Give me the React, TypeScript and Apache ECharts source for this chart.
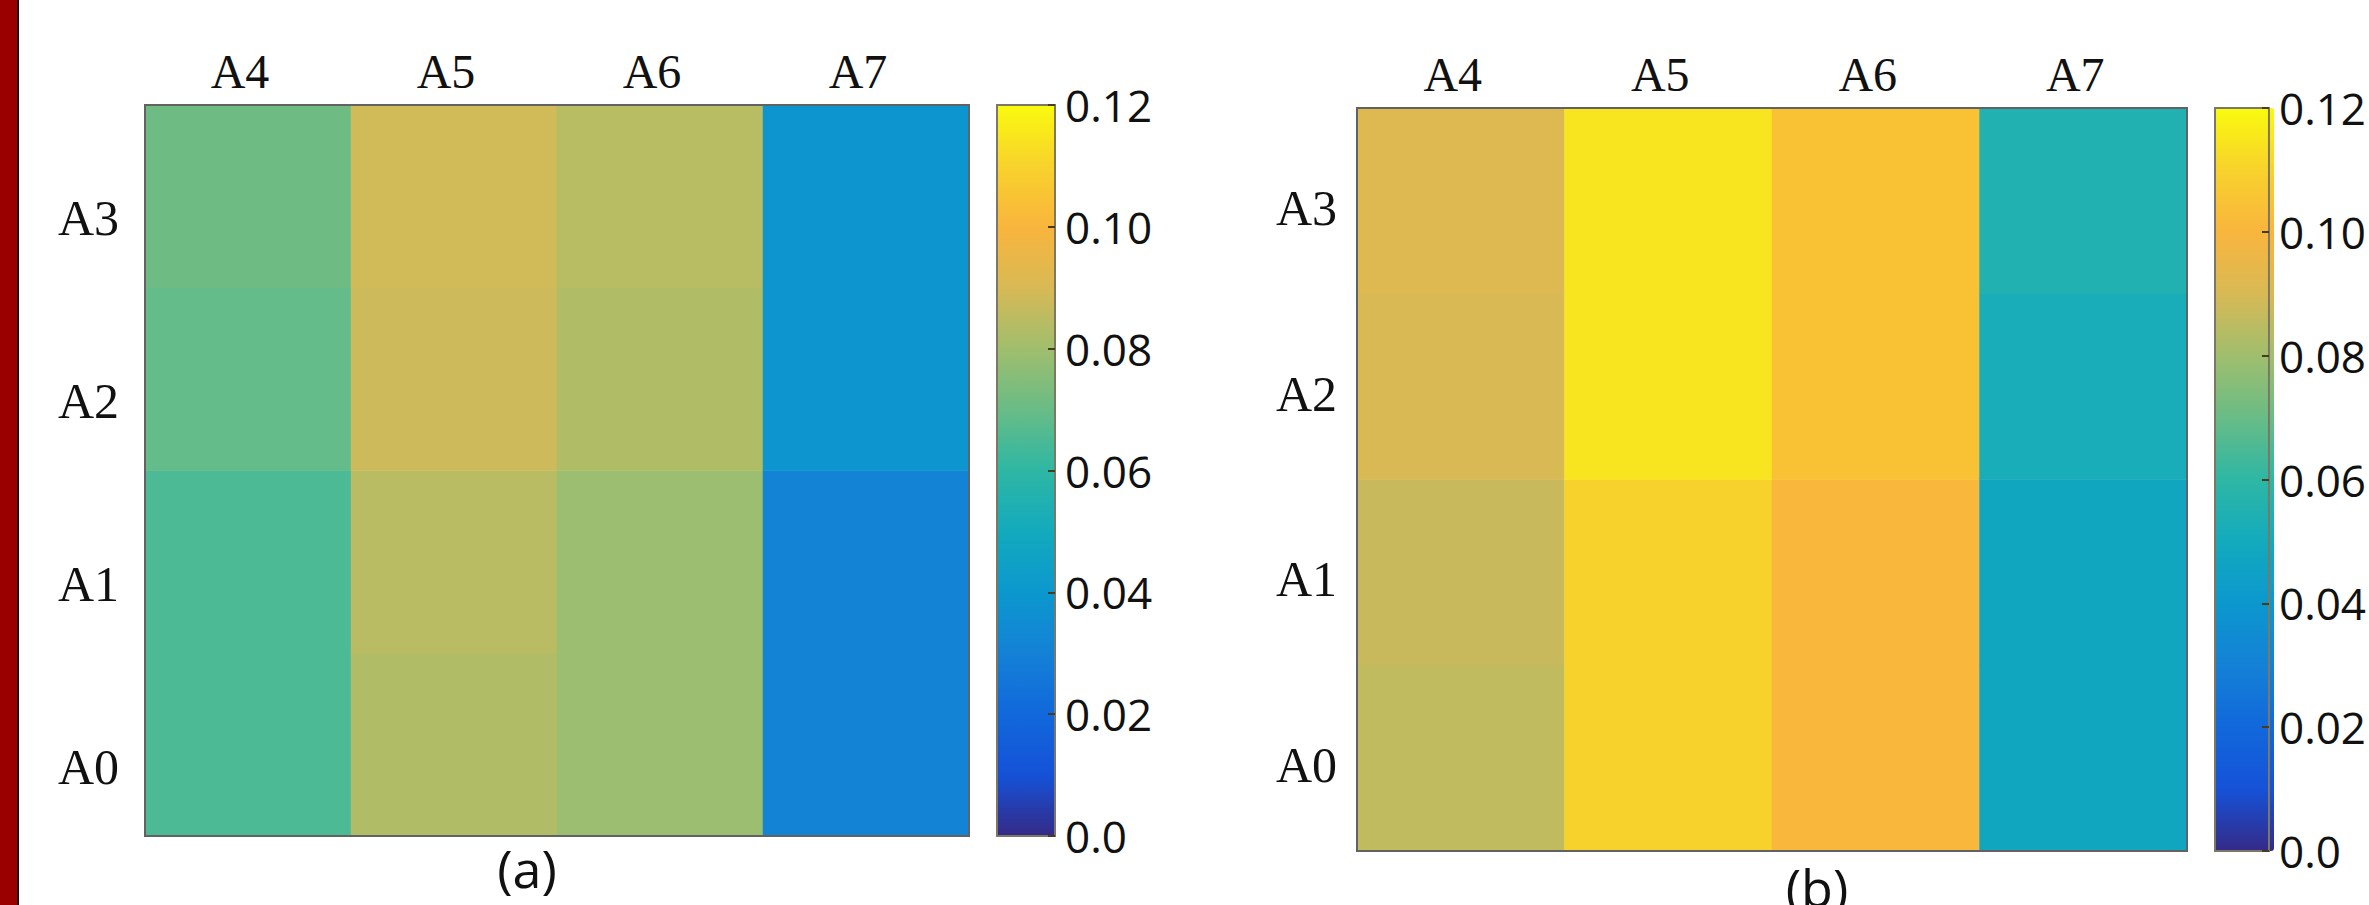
import React, { useEffect, useRef } from "react";
import * as echarts from "echarts";

// Categories
const columns = ["A4", "A5", "A6", "A7"];
const rows = ["A0", "A1", "A2", "A3"];

// Panel (a) values per column, ordered A0, A1, A2, A3
const a_A4 = [0.065, 0.065, 0.069, 0.071];
const a_A5 = [0.083, 0.0845, 0.088, 0.0888];
const a_A6 = [0.079, 0.079, 0.083, 0.0843];
const a_A7 = [0.031, 0.031, 0.0387, 0.0387];

// Panel (b) values per column, ordered A0, A1, A2, A3
const b_A4 = [0.0859, 0.0871, 0.0903, 0.0918];
const b_A5 = [0.11, 0.11, 0.1144, 0.1144];
const b_A6 = [0.1007, 0.1007, 0.1045, 0.1045];
const b_A7 = [0.048, 0.048, 0.052, 0.055];

// Colorbar scale
const cbMin = 0;
const cbMax = 0.12;
const cbStep = 0.02;

const parula = [
  "#352A87", "#1552D8", "#1168DB", "#1481D6", "#0B98CE", "#13AABD", "#2EB7A4",
  "#69BC86", "#A0BE6D", "#D8B955", "#F9B53D", "#F8D22C", "#F9FB0E",
];

function toCells(cols: number[][]) {
  const out: number[][] = [];
  cols.forEach((col, xi) => col.forEach((v, yi) => out.push([xi, yi, v])));
  return out;
}

const cellsA = toCells([a_A4, a_A5, a_A6, a_A7]);
const cellsB = toCells([b_A4, b_A5, b_A6, b_A7]);

const SERIF = "Liberation Serif";
const SANS = "Open Sans";

const panels = [
  {
    grid: { left: 145, top: 105, width: 824, height: 731 },
    cbar: { left: 997, top: 105, width: 58, height: 731 },
    ylabelMargin: 26,
    ylabelLineHeight: 44,
    cells: cellsA,
  },
  {
    grid: { left: 1357, top: 108, width: 830, height: 743 },
    cbar: { left: 2215, top: 108, width: 59, height: 743 },
    ylabelMargin: 20,
    ylabelLineHeight: 14,
    cells: cellsB,
  },
];

function buildOption() {
  const grid: any[] = [];
  const xAxis: any[] = [];
  const yAxis: any[] = [];
  const series: any[] = [];
  const visualMap: any[] = [];

  panels.forEach((p, i) => {
    grid.push({
      ...p.grid,
      show: true,
      backgroundColor: "transparent",
      borderColor: "#626262",
      borderWidth: 2,
      z: 5,
    });
    xAxis.push({
      gridIndex: i,
      type: "category",
      data: columns,
      position: "top",
      axisLine: { show: false },
      axisTick: { show: false },
      splitLine: { show: false },
      axisLabel: {
        fontFamily: SERIF,
        fontSize: 48,
        color: "#111",
        margin: 10,
        padding: [0, 16, 0, 0],
      },
    });
    yAxis.push({
      gridIndex: i,
      type: "category",
      data: rows,
      axisLine: { show: false },
      axisTick: { show: false },
      splitLine: { show: false },
      axisLabel: {
        fontFamily: SERIF,
        fontSize: 50,
        color: "#111",
        margin: p.ylabelMargin,
        verticalAlign: "top",
        lineHeight: p.ylabelLineHeight,
      },
    });
    series.push({
      type: "heatmap",
      xAxisIndex: i,
      yAxisIndex: i,
      data: p.cells,
      emphasis: { disabled: true },
      itemStyle: { borderWidth: 0 },
    });
    visualMap.push({
      type: "continuous",
      seriesIndex: i,
      min: cbMin,
      max: cbMax,
      calculable: false,
      hoverLink: false,
      orient: "vertical",
      left: p.cbar.left,
      top: p.cbar.top,
      itemWidth: p.cbar.width,
      itemHeight: p.cbar.height,
      padding: 0,
      inRange: { color: parula },
    });
  });

  panels.forEach((p, i) => {
    const gi = panels.length + i;
    grid.push({
      ...p.cbar,
      show: true,
      backgroundColor: "transparent",
      borderColor: "#7d7866",
      borderWidth: 2,
      z: 10,
    });
    xAxis.push({
      gridIndex: gi,
      type: "value",
      min: 1,
      max: 2,
      show: false,
      axisLine: { onZero: false },
    });
    yAxis.push({
      gridIndex: gi,
      type: "value",
      min: cbMin,
      max: cbMax,
      interval: cbStep,
      position: "right",
      z: 10,
      axisLine: { show: false, onZero: false },
      splitLine: { show: false },
      axisTick: {
        show: true,
        inside: true,
        length: 7,
        lineStyle: { color: "#4a3a20", width: 2 },
      },
      axisLabel: {
        fontFamily: SANS,
        fontSize: 44,
        color: "#111",
        margin: 10,
        formatter: (v: number) => (v === 0 ? "0.0" : v.toFixed(2)),
      },
    });
  });

  return {
    animation: false,
    backgroundColor: "#ffffff",
    grid,
    xAxis,
    yAxis,
    series,
    visualMap,
    graphic: [
      { type: "rect", left: 0, top: 0, shape: { width: 17, height: 905 }, style: { fill: "#9B0000" } },
      { type: "rect", left: 17, top: 0, shape: { width: 2, height: 905 }, style: { fill: "#1a0000" } },
      {
        type: "text",
        x: 527,
        y: 867,
        style: {
          text: "(a)",
          fontFamily: SANS,
          fontSize: 52,
          lineHeight: 54,
          fill: "#111",
          align: "center",
          verticalAlign: "middle",
        },
      },
      {
        type: "text",
        x: 1817,
        y: 886,
        style: {
          text: "(b)",
          fontFamily: SANS,
          fontSize: 52,
          lineHeight: 54,
          fill: "#111",
          align: "center",
          verticalAlign: "middle",
        },
      },
    ],
  };
}

export default function App() {
  const ref = useRef<HTMLDivElement>(null);
  useEffect(() => {
    if (!ref.current) return;
    const chart = echarts.init(ref.current, undefined, { renderer: "svg" });
    chart.setOption(buildOption() as any);
    return () => chart.dispose();
  }, []);
  return (
    <div
      ref={ref}
      style={{ position: "absolute", left: 0, top: 0, width: 2369, height: 905 }}
    />
  );
}
